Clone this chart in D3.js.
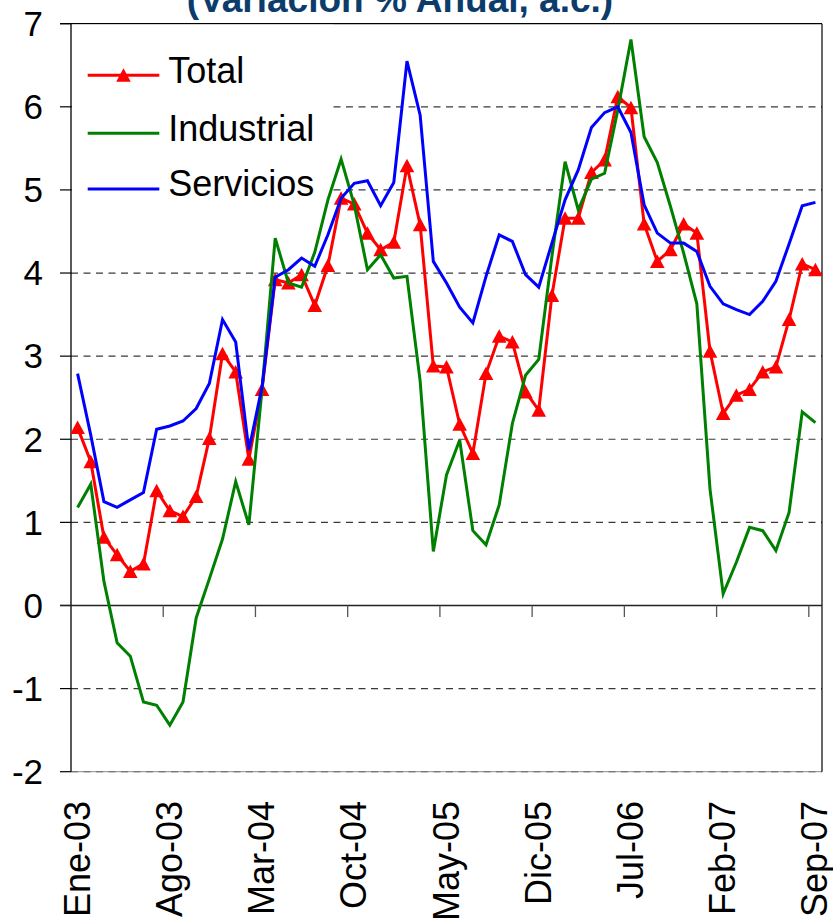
<!DOCTYPE html>
<html>
<head>
<meta charset="utf-8">
<script src="https://cdn.jsdelivr.net/npm/d3@7"></script>
<style>
  html, body { margin: 0; padding: 0; background: #fff; }
  svg { display: block; font-family: "Liberation Sans", Arial, sans-serif; }
</style>
</head>
<body>
<svg id="chart" width="833" height="924"></svg>
<script>
// ---- Data ----
const months = ["Ene","Feb","Mar","Abr","May","Jun","Jul","Ago","Sep","Oct","Nov","Dic"];
const years = ["03","04","05","06","07"];
const categories = [];
years.forEach(y => months.forEach(m => categories.push(m + "-" + y)));
categories.splice(57); // Ene-03 .. Sep-07

const total = [2.14,1.73,0.82,0.61,0.41,0.50,1.38,1.14,1.07,1.31,
               2.01,3.03,2.81,1.76,2.60,3.92,3.88,3.98,3.61,4.09,
               4.90,4.83,4.48,4.28,4.37,5.29,4.58,2.88,2.87,2.18,
               1.83,2.79,3.24,3.17,2.57,2.35,3.73,4.66,4.66,5.21,
               5.36,6.12,5.99,4.59,4.14,4.28,4.59,4.48,3.06,2.31,
               2.53,2.60,2.81,2.87,3.44,4.11,4.04];
const industrial = [1.18,1.46,0.29,-0.45,-0.61,-1.16,-1.20,-1.44,-1.16,-0.15,
                    0.32,0.80,1.49,0.97,2.60,4.42,3.88,3.83,4.25,4.88,
                    5.37,4.82,4.04,4.22,3.94,3.96,2.70,0.65,1.57,1.99,
                    0.90,0.73,1.21,2.19,2.77,2.96,4.20,5.34,4.76,5.13,
                    5.20,5.96,6.81,5.64,5.33,4.80,4.24,3.63,1.40,0.14,
                    0.52,0.94,0.90,0.66,1.12,2.33,2.20];
const servicios = [2.79,2.05,1.25,1.18,1.27,1.36,2.12,2.16,2.22,2.37,
                   2.67,3.44,3.17,1.87,2.63,3.95,4.04,4.18,4.08,4.46,
                   4.90,5.08,5.11,4.81,5.09,6.55,5.90,4.14,3.88,3.59,
                   3.40,3.96,4.46,4.38,3.98,3.83,4.36,4.88,5.24,5.75,
                   5.93,6.00,5.69,4.82,4.48,4.36,4.36,4.26,3.84,3.63,
                   3.56,3.50,3.66,3.90,4.35,4.81,4.85];
const yTicks = [-2,-1,0,1,2,3,4,5,6,7];
const xTickLabels = ["Ene-03","Ago-03","Mar-04","Oct-04","May-05","Dic-05","Jul-06","Feb-07","Sep-07"];
const seriesNames = ["Total","Industrial","Servicios"];
const seriesColors = ["#ff0000","#008000","#0000ff"];
const title = "(Variación % Anual, a.c.)";

// ---- Layout ----
const svg = d3.select("#chart");
const L = 71, R = 822, T = 23.7, B = 771.7;
const x = d3.scaleBand().domain(d3.range(categories.length)).range([L, R]).padding(0);
const cx = i => x(i) + x.bandwidth() / 2;
const y = d3.scaleLinear().domain([-2, 7]).range([B, T]);

// Title (cut at top, as in the source)
svg.append("text").attr("x", 400).attr("y", 11.5).attr("text-anchor", "middle")
  .attr("font-size", 37).attr("font-weight", "bold").attr("fill", "#0b3c6c")
  .text(title);

// Gridlines (dashed)
const grid = svg.append("g");
yTicks.filter(v => v !== 0 && v !== 7).forEach(v => {
  grid.append("line").attr("x1", L).attr("x2", R).attr("y1", y(v)).attr("y2", y(v))
    .attr("stroke", "#3a3a3a").attr("stroke-width", 1.2).attr("stroke-dasharray", "7,5.5");
});
svg.append("line").attr("x1", L).attr("x2", R).attr("y1", y(-2)).attr("y2", y(-2))
  .attr("stroke", "#888").attr("stroke-width", 1);

// Y axis ticks + labels
const yAxis = svg.append("g");
yTicks.forEach(v => {
  yAxis.append("line").attr("x1", 60).attr("x2", L).attr("y1", y(v)).attr("y2", y(v))
    .attr("stroke", "#000").attr("stroke-width", 1.2);
  yAxis.append("text").attr("x", 43).attr("y", y(v)).attr("dy", "0.35em")
    .attr("text-anchor", "end").attr("font-size", 35).attr("fill", "#000").text(v);
});

// Frame
svg.append("line").attr("x1", 60).attr("x2", R).attr("y1", T).attr("y2", T).attr("stroke", "#000").attr("stroke-width", 1.2);
svg.append("line").attr("x1", R).attr("x2", R).attr("y1", T).attr("y2", B).attr("stroke", "#000").attr("stroke-width", 1.2);
svg.append("line").attr("x1", L).attr("x2", L).attr("y1", T).attr("y2", B).attr("stroke", "#000").attr("stroke-width", 1.3);

// Zero line
svg.append("line").attr("x1", 60).attr("x2", R).attr("y1", y(0)).attr("y2", y(0))
  .attr("stroke", "#222").attr("stroke-width", 1.3);

// X tick marks at category boundaries every 7 months
d3.range(7, categories.length, 7).forEach(i => {
  svg.append("line").attr("x1", x(i)).attr("x2", x(i)).attr("y1", y(0)).attr("y2", y(0) + 11.5)
    .attr("stroke", "#555").attr("stroke-width", 1.3);
});

// X labels
xTickLabels.forEach(lab => {
  const i = categories.indexOf(lab);
  svg.append("text")
    .attr("transform", `translate(${cx(i) + 12},801) rotate(-90)`)
    .attr("text-anchor", "end").attr("font-size", 36).attr("fill", "#000").text(lab);
});

// Legend box (white, covers gridlines)
svg.append("rect").attr("x", L + 1).attr("y", T + 1).attr("width", 261).attr("height", 182).attr("fill", "#fff");

// Lines
const lineGen = d3.line().x((d, i) => cx(i)).y(d => y(d));
const allSeries = [total, industrial, servicios];
const plot = svg.append("g");
allSeries.forEach((s, k) => {
  plot.append("path").datum(s).attr("d", lineGen).attr("fill", "none")
    .attr("stroke", seriesColors[k]).attr("stroke-width", 3).attr("stroke-linejoin", "miter");
  if (k === 0) {
    plot.selectAll(null).data(s).enter().append("path")
      .attr("d", "M0,-7L7.3,6.5L-7.3,6.5Z")
      .attr("transform", (d, i) => `translate(${cx(i)},${y(d)})`)
      .attr("fill", "#ff0000");
  }
});

// Legend
const legY = [75.3, 133.3, 189];
seriesNames.forEach((n, k) => {
  svg.append("line").attr("x1", 87.7).attr("x2", 159.3).attr("y1", legY[k]).attr("y2", legY[k])
    .attr("stroke", seriesColors[k]).attr("stroke-width", 3);
  if (k === 0) {
    svg.append("path").attr("d", "M0,-7L7.3,6.5L-7.3,6.5Z")
      .attr("transform", `translate(123.5,${legY[k]})`).attr("fill", "#ff0000");
  }
  svg.append("text").attr("x", 168.3).attr("y", legY[k] + 7.2)
    .attr("font-size", 36).attr("fill", "#000").text(n);
});
</script>
</body>
</html>
